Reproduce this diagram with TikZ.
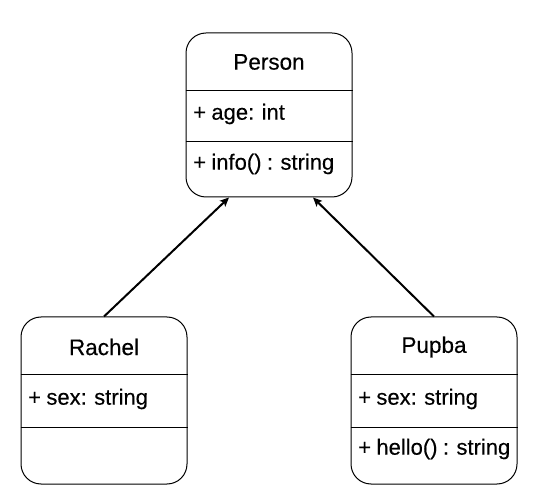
\documentclass[tikz,border=0pt]{standalone}
\usepackage{fontspec}
\setmainfont{Liberation Sans}[FakeBold=0.3,WordSpace=0.88]
\usetikzlibrary{arrows.meta}
\begin{document}
\begin{tikzpicture}[x=1pt,y=-1pt,
  umlbox/.style={draw=black, line width=1pt, rounded corners=20pt, rectangle, inner sep=0pt, minimum width=166pt, minimum height=167pt},
  pbox/.style={umlbox, minimum height=164pt},
  divider/.style={draw=black, line width=1pt},
  title/.style={inner sep=0pt, font=\fontsize{22.5}{27}\selectfont},
  member/.style={inner sep=0pt, anchor=west, font=\fontsize{22}{26}\selectfont},
  arr/.style={line width=2pt, -{Stealth[length=9pt,width=8pt,inset=2pt]}}
]
\useasboundingbox (0,0) rectangle (538,502);
% Person
\node[pbox] (person) at (269,115) {};
\draw[divider] (person.west |- 0,91) -- (person.east |- 0,91);
\draw[divider] (person.west |- 0,142) -- (person.east |- 0,142);
\node[title] (personname) at (269,62) {Person};
\node[member] (personage) at (193,114) {+ age: int};
\node[member] (personinfo) at (193,164) {+ info() : string};
% Rachel
\node[umlbox] (rachel) at (104,400.5) {};
\draw[divider] (rachel.west |- 0,375) -- (rachel.east |- 0,375);
\draw[divider] (rachel.west |- 0,427) -- (rachel.east |- 0,427);
\node[title] (rachelname) at (104,347) {Rachel};
\node[member] (rachelsex) at (28,399) {+ sex: string};
% Pupba
\node[umlbox] (pupba) at (434,400.5) {};
\draw[divider] (pupba.west |- 0,375) -- (pupba.east |- 0,375);
\draw[divider] (pupba.west |- 0,427) -- (pupba.east |- 0,427);
\node[title] (pupbaname) at (434,347) {Pupba};
\node[member] (pupbasex) at (358,399) {+ sex: string};
\node[member] (pupbahello) at (358,449) {+ hello() : string};
% Arrows
\draw[arr] (rachel.north) -- ([xshift=-40pt]person.south);
\draw[arr] (pupba.north) -- ([xshift=44pt]person.south);
\end{tikzpicture}
\end{document}
